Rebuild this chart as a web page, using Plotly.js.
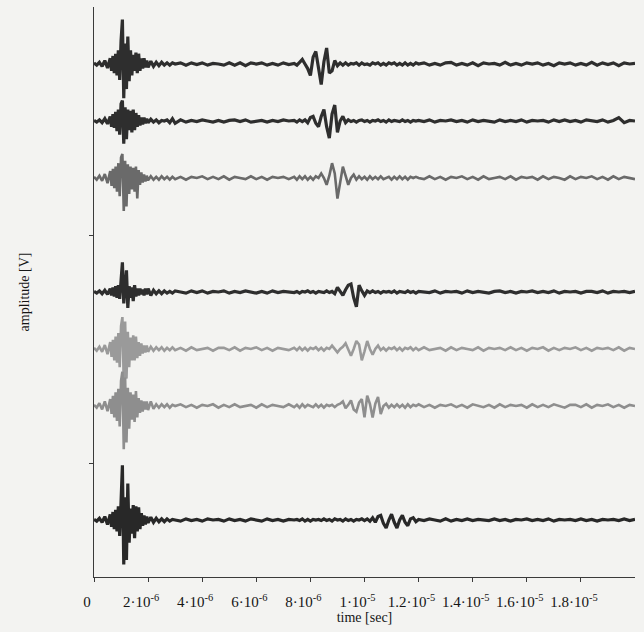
<!DOCTYPE html>
<html>
<head>
<meta charset="utf-8">
<script src="https://cdn.plot.ly/plotly-3.0.1.min.js"></script>
<style>html,body{margin:0;padding:0;background:#f3f3f1;}#chart{width:644px;height:632px;}</style>
</head>
<body>
<div id="chart"></div>
<script>
// time in microseconds
const timeUs = [0,0.1,0.2,0.3,0.4,0.5,
 0.6,0.65,0.7,0.75,0.8,0.85,0.9,0.95,1.0,1.05,1.1,1.15,1.2,1.25,1.3,1.35,1.4,1.45,1.5,1.55,1.6,1.65,1.7,1.75,1.8,1.85,1.9,1.95,
 2.0,2.1,2.2,2.3,2.4,2.5,2.6,2.7,2.8,2.9,
 3.0,3.2,3.4,3.6,3.8,4.0,4.2,4.4,4.6,4.8,5.0,5.2,5.4,5.6,5.8,6.0,6.2,6.4,6.6,6.8,7.0,7.2,
 7.4,7.5,7.6,7.7,7.8,7.9,8.0,8.1,8.2,8.3,
 8.4,8.5,8.6,8.7,8.8,8.9,9.0,9.1,9.2,9.3,
 9.4,9.5,9.6,9.7,9.8,9.9,10.0,10.1,10.2,10.3,
 10.4,10.5,10.6,10.7,10.8,10.9,11.0,11.1,11.2,11.3,
 11.4,11.5,11.6,11.7,11.8,11.9,
 12.0,12.2,12.4,12.6,12.8,13.0,13.2,13.4,13.6,13.8,14.0,14.2,14.4,14.6,14.8,15.0,15.2,15.4,15.6,15.8,
 16.0,16.2,16.4,16.6,16.8,17.0,17.2,17.4,17.6,17.8,18.0,18.2,18.4,18.6,18.8,19.0,19.2,19.4,19.6,19.8,20.0];

const sig1 = [0.01,-0.01,0.015,-0.02,0.03,-0.035,
 0.05,-0.06,0.07,-0.08,0.09,-0.10,0.12,-0.14,0.20,0.39,-0.30,0.18,-0.22,0.24,-0.15,0.12,-0.10,0.08,-0.06,0.10,-0.08,0.09,-0.06,0.05,-0.04,0.05,-0.03,0.03,
 -0.03,0.025,-0.02,0.015,-0.015,0.015,-0.01,0.01,-0.01,0.01,
 0.00,0.01,-0.01,0.01,-0.005,0.01,-0.01,0.005,0.00,-0.01,0.01,-0.01,0.01,-0.015,0.01,0.00,0.01,-0.01,0.005,-0.01,0.01,-0.005,
 0.005,-0.01,0.015,0.04,0.00,-0.04,-0.10,0.06,0.11,-0.06,
 -0.18,0.02,0.14,-0.08,-0.06,0.03,-0.015,0.01,-0.01,0.01,
 -0.01,0.005,0.00,0.01,-0.01,0.01,-0.005,0.00,-0.01,0.01,
 0.00,0.01,-0.01,0.005,-0.01,0.01,0.00,0.01,-0.01,0.005,
 -0.01,0.01,-0.01,0.005,-0.01,0.01,
 0.00,0.01,-0.01,0.005,-0.01,0.01,0.015,-0.01,0.005,-0.01,0.01,-0.015,0.01,0.00,0.005,-0.01,0.015,-0.01,0.005,-0.01,
 0.01,0.00,0.01,-0.01,0.005,-0.015,0.01,0.00,0.01,-0.01,0.005,-0.01,0.015,-0.01,0.01,-0.005,0.01,-0.015,0.01,0.00,0.005];

const sig2 = [0.005,-0.01,0.01,-0.015,0.02,-0.025,
 0.04,-0.05,0.06,-0.06,0.08,-0.09,0.10,-0.12,0.15,0.18,-0.20,0.12,-0.16,0.10,-0.08,0.09,-0.10,0.10,-0.08,0.07,-0.05,0.05,-0.04,0.03,-0.03,0.03,-0.02,0.02,
 -0.015,0.015,-0.01,0.01,-0.015,0.005,0.00,0.01,-0.015,0.02,
 -0.02,0.01,-0.01,0.005,-0.005,0.01,0.00,-0.01,0.005,-0.01,0.005,0.01,-0.005,0.01,-0.01,0.00,0.005,-0.01,0.005,-0.005,0.01,0.00,
 0.005,-0.01,0.01,-0.005,0.01,-0.015,0.03,0.04,-0.02,-0.05,
 0.04,0.10,-0.05,-0.15,0.06,0.14,-0.10,0.00,0.04,-0.015,
 0.01,-0.005,0.005,-0.01,0.005,0.01,-0.005,0.005,-0.01,0.005,
 0.00,0.01,-0.005,0.005,-0.01,0.01,-0.005,0.005,0.00,-0.005,
 0.01,-0.005,0.005,-0.01,0.005,0.00,
 0.005,-0.005,0.01,-0.01,0.005,0.00,0.01,-0.005,0.005,-0.01,0.01,-0.005,0.005,0.00,-0.01,0.01,-0.005,0.005,-0.005,0.01,
 -0.01,0.005,0.00,0.005,-0.01,0.01,-0.005,0.01,-0.005,0.005,-0.01,0.01,0.00,-0.005,0.01,-0.01,0.005,0.03,-0.015,0.005,0.00];

const sig3 = [0.01,-0.015,0.02,-0.025,0.035,-0.045,
 0.06,-0.07,0.08,-0.09,0.10,-0.12,0.13,-0.16,0.18,0.21,-0.29,0.15,-0.25,0.12,-0.14,0.10,-0.10,0.09,-0.12,0.10,-0.18,0.07,-0.06,0.05,-0.04,0.03,-0.03,0.02,
 -0.02,0.015,-0.015,0.01,-0.015,0.015,-0.01,0.01,-0.015,0.01,
 -0.01,0.01,-0.015,0.01,0.00,0.015,-0.01,0.01,-0.01,0.015,-0.015,0.01,0.00,-0.01,0.015,-0.01,0.01,-0.015,0.01,0.00,0.01,-0.01,
 0.01,-0.015,0.015,-0.01,0.015,-0.015,0.01,-0.015,0.015,0.00,
 0.04,0.00,-0.06,0.02,0.13,0.04,-0.18,-0.04,0.10,0.02,
 -0.06,0.00,0.03,-0.015,0.015,-0.01,0.01,-0.015,0.015,-0.01,
 0.01,-0.01,0.015,-0.01,0.00,0.01,-0.015,0.01,-0.01,0.015,
 -0.01,0.01,-0.015,0.01,0.00,0.01,
 0.00,-0.01,0.015,-0.01,0.01,-0.015,0.01,0.00,0.015,-0.01,0.01,-0.015,0.015,-0.01,0.00,0.01,-0.01,0.015,-0.015,0.01,
 0.00,0.01,-0.015,0.015,-0.01,0.01,0.00,-0.015,0.015,-0.01,0.01,0.00,0.015,-0.01,0.01,-0.015,0.015,-0.01,0.01,0.00,-0.01];

const sig4 = [0.005,-0.01,0.01,-0.015,0.015,-0.02,
 0.03,-0.03,0.04,-0.04,0.05,-0.05,0.06,-0.06,0.10,0.26,-0.10,0.08,0.19,-0.14,0.05,-0.05,0.04,-0.08,0.06,-0.04,0.03,-0.03,0.03,-0.02,0.02,-0.03,0.03,-0.02,
 0.03,-0.03,0.015,-0.015,0.01,-0.015,0.01,-0.01,0.005,-0.01,
 0.01,0.00,-0.01,0.01,-0.005,0.01,-0.01,0.005,0.00,0.01,-0.01,0.005,-0.005,0.01,0.00,-0.01,0.005,-0.01,0.01,-0.005,0.005,0.00,
 -0.005,0.005,-0.01,0.005,0.00,0.01,-0.005,0.005,-0.01,0.005,
 0.00,-0.005,0.01,-0.005,0.005,-0.015,0.04,0.00,-0.03,0.02,
 0.06,0.07,-0.05,-0.13,0.06,0.01,-0.03,0.01,-0.005,0.01,
 -0.005,0.005,-0.01,0.005,0.00,0.005,-0.005,0.01,-0.01,0.005,
 0.00,-0.005,0.01,-0.005,0.005,-0.01,
 0.005,0.00,-0.005,0.01,-0.01,0.005,0.00,0.005,-0.01,0.01,-0.005,0.005,0.00,-0.01,0.005,0.01,-0.005,0.005,-0.01,0.005,
 0.00,0.01,-0.005,0.005,-0.005,0.01,-0.01,0.005,0.00,0.005,-0.01,0.005,0.005,-0.005,0.01,-0.01,0.005,0.00,0.005,-0.005,0.005];

const sig5 = [0.01,-0.015,0.02,-0.025,0.035,-0.045,
 0.06,-0.07,0.08,-0.10,0.11,-0.12,0.14,-0.16,0.20,0.28,-0.30,0.24,-0.26,0.15,-0.16,0.10,-0.10,0.12,-0.10,0.11,-0.08,0.06,-0.06,0.05,-0.04,0.03,-0.03,0.03,
 -0.025,0.02,-0.015,0.015,-0.01,0.015,-0.015,0.01,-0.01,0.015,
 -0.01,0.01,-0.015,0.015,-0.01,0.00,0.01,-0.015,0.01,0.01,-0.01,0.015,-0.015,0.01,0.00,0.015,-0.01,0.01,-0.015,0.01,0.00,-0.01,
 0.01,-0.01,0.015,-0.01,0.01,-0.015,0.01,0.00,0.015,-0.01,
 0.01,-0.015,0.01,0.00,0.03,0.00,-0.03,0.00,0.02,0.05,
 0.00,-0.06,0.00,0.07,0.04,-0.10,-0.02,0.07,0.00,-0.05,
 0.00,0.03,-0.01,0.01,-0.015,0.01,0.00,0.015,-0.01,0.01,
 -0.015,0.01,0.00,0.015,-0.01,0.01,
 -0.01,0.015,-0.01,0.00,0.01,-0.015,0.015,-0.01,0.01,0.00,-0.01,0.015,-0.015,0.01,0.00,0.01,-0.01,0.015,-0.01,0.01,
 -0.015,0.01,0.00,0.015,-0.015,0.01,-0.01,0.01,0.00,0.015,-0.01,0.01,-0.015,0.01,0.00,0.01,-0.01,0.015,-0.015,0.01,0.00];

const sig6 = [0.01,-0.015,0.025,-0.03,0.04,-0.045,
 0.06,-0.07,0.09,-0.10,0.12,-0.13,0.15,-0.18,0.22,0.30,-0.38,0.25,-0.32,0.16,-0.20,0.12,-0.12,0.10,-0.14,0.13,-0.10,0.07,-0.06,0.05,-0.05,0.04,-0.03,0.04,
 -0.035,0.04,-0.025,0.015,-0.015,0.015,-0.01,0.015,-0.015,0.01,
 0.00,0.015,-0.01,0.01,-0.015,0.01,0.00,0.015,-0.015,0.01,-0.01,0.015,-0.01,0.00,0.01,-0.015,0.015,-0.01,0.01,0.00,-0.01,0.015,
 -0.01,0.01,-0.015,0.015,-0.01,0.01,0.00,-0.01,0.015,-0.01,
 0.01,-0.015,0.01,0.00,0.01,-0.01,0.01,0.02,0.04,-0.02,
 0.01,0.05,-0.03,-0.05,0.03,0.06,-0.10,0.09,0.02,-0.10,
 0.02,0.08,-0.07,0.00,0.02,-0.015,0.01,-0.01,0.015,-0.01,
 0.01,-0.015,0.015,-0.01,0.01,0.00,
 0.015,-0.01,0.01,-0.015,0.01,0.00,0.015,-0.01,0.01,-0.015,0.015,0.00,-0.01,0.01,-0.015,0.015,-0.01,0.01,0.00,0.01,
 -0.015,0.015,-0.01,0.01,-0.01,0.015,0.00,-0.015,0.01,0.01,-0.01,0.015,-0.015,0.01,0.00,0.015,-0.01,0.01,-0.015,0.01,0.00];

const sig7 = [0.005,-0.01,0.015,-0.02,0.03,-0.04,
 0.05,-0.06,0.07,-0.08,0.09,-0.10,0.12,-0.14,0.16,0.48,-0.39,0.20,-0.35,0.32,-0.20,0.10,-0.12,0.13,-0.16,0.12,-0.10,0.11,-0.08,0.06,-0.05,0.04,-0.04,0.03,
 -0.025,0.025,-0.02,0.015,-0.015,0.01,-0.015,0.01,-0.01,0.005,
 0.00,-0.01,0.01,-0.005,0.005,-0.01,0.01,0.00,0.005,-0.01,0.01,-0.005,0.005,-0.01,0.01,0.00,-0.01,0.01,-0.005,0.005,-0.01,0.005,
 0.00,0.005,-0.005,0.01,-0.01,0.005,-0.01,0.005,0.00,0.005,
 -0.005,0.01,-0.005,0.005,-0.01,0.01,0.00,0.005,-0.01,0.01,
 -0.005,0.005,-0.01,0.005,0.00,0.01,-0.005,0.01,-0.01,0.02,
 -0.02,0.03,0.04,-0.03,-0.07,0.00,0.05,-0.02,-0.07,0.00,
 0.04,-0.02,-0.05,0.01,0.02,-0.015,
 0.005,-0.005,0.01,0.00,-0.01,0.01,-0.01,0.005,-0.005,0.01,-0.005,0.005,0.00,-0.005,0.01,-0.005,0.005,-0.01,0.005,0.00,
 0.01,-0.005,0.005,-0.005,0.01,-0.01,0.005,0.00,0.005,-0.005,0.01,-0.005,0.005,-0.01,0.005,0.00,0.005,-0.005,0.01,-0.005,0.005];

const signals = [sig1, sig2, sig3, sig4, sig5, sig6, sig7];
const offsets = [3.5, 3.0, 2.5, 1.5, 1.0, 0.5, -0.5];
const colors = ['#2e2e2e','#2e2e2e','#6a6a6a','#2e2e2e','#9a9a9a','#8e8e8e','#282828'];
const widths = [3.2, 3.2, 2.6, 3.2, 2.6, 2.6, 3.2];

const xTickVals = [0,2,4,6,8,10,12,14,16,18];
const xTickText = ['0','2·10<sup>-6</sup>','4·10<sup>-6</sup>','6·10<sup>-6</sup>','8·10<sup>-6</sup>',
  '1·10<sup>-5</sup>','1.2·10<sup>-5</sup>','1.4·10<sup>-5</sup>','1.6·10<sup>-5</sup>','1.8·10<sup>-5</sup>'];
const yTickVals = [0, 2];

const traces = signals.map((s, i) => ({
  type: 'scatter', mode: 'lines',
  x: timeUs, y: s.map(v => v + offsets[i]),
  line: {color: colors[i], width: widths[i]},
  hoverinfo: 'skip', showlegend: false
}));

const serif = 'Liberation Serif, Times New Roman, serif';
const axCol = '#3a3a3a';
const txtCol = '#151515';
const layout = {
  width: 644, height: 632,
  margin: {l: 94, r: 9, t: 7, b: 55},
  paper_bgcolor: '#f3f3f1', plot_bgcolor: '#f3f3f1',
  showlegend: false,
  font: {family: serif, color: txtCol},
  xaxis: {
    range: [0, 20], tickmode: 'array', tickvals: xTickVals, ticktext: xTickText,
    ticks: 'outside', ticklen: 4, tickwidth: 1, tickcolor: axCol,
    showline: true, linecolor: axCol, linewidth: 1.2,
    showgrid: false, zeroline: false, ticklabelshift: -7, ticklabelstandoff: 7,
    tickfont: {family: serif, size: 15, color: txtCol},
    title: {text: 'time [sec]', font: {family: serif, size: 14, color: txtCol}, standoff: 0}
  },
  xaxis2: {
    overlaying: 'x', anchor: 'y', side: 'bottom',
    range: [0, 20], tickmode: 'array', tickvals: xTickVals,
    ticks: 'inside', ticklen: 4, tickwidth: 1, tickcolor: axCol,
    showticklabels: false, showline: false, showgrid: false, zeroline: false
  },
  yaxis: {
    range: [-1, 4], tickmode: 'array', tickvals: yTickVals, showticklabels: false,
    ticks: 'outside', ticklen: 4, tickwidth: 1, tickcolor: axCol,
    showline: true, linecolor: axCol, linewidth: 1.2,
    showgrid: false, zeroline: false,
    title: {text: 'amplitude [V]', font: {family: serif, size: 14, color: txtCol}, standoff: 56}
  },
  yaxis2: {
    overlaying: 'y', anchor: 'x', side: 'left',
    range: [-1, 4], tickmode: 'array', tickvals: yTickVals,
    ticks: 'inside', ticklen: 4, tickwidth: 1, tickcolor: axCol,
    showticklabels: false, showline: false, showgrid: false, zeroline: false
  }
};

Plotly.newPlot('chart', traces, layout, {staticPlot: true, displayModeBar: false});
</script>
</body>
</html>
